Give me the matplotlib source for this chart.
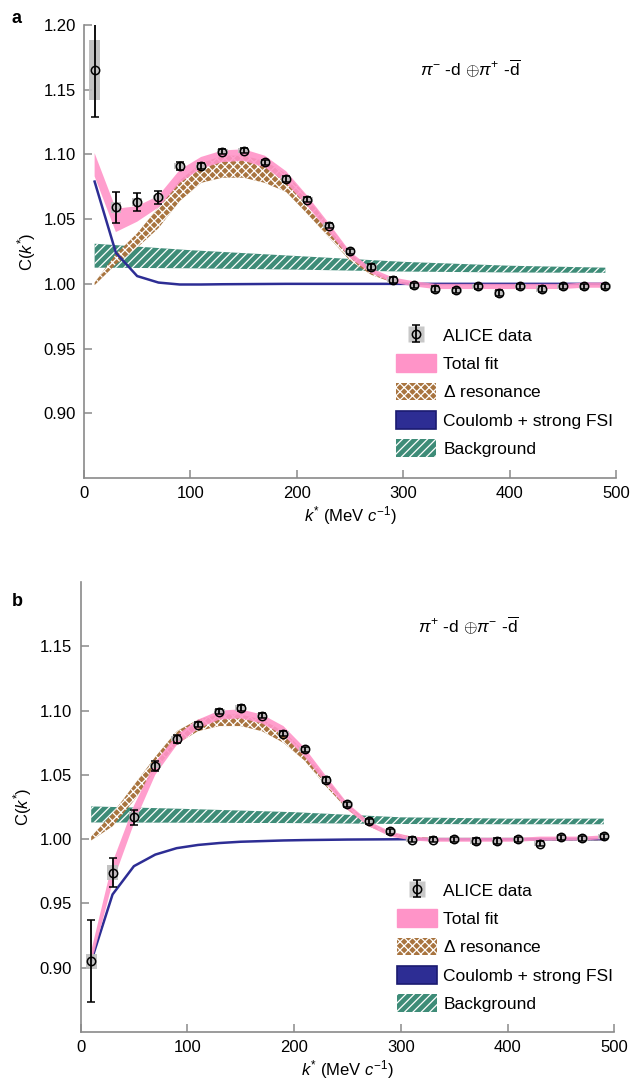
import numpy as np
import matplotlib
matplotlib.use("Agg")
import matplotlib.pyplot as plt
from matplotlib.lines import Line2D
from matplotlib.patches import Patch

plt.rcParams['font.family'] = ['Liberation Sans', 'DejaVu Sans']
plt.rcParams['mathtext.fontset'] = 'custom'
plt.rcParams['mathtext.rm'] = 'Liberation Sans'
plt.rcParams['mathtext.it'] = 'Liberation Sans:italic'
plt.rcParams['mathtext.bf'] = 'Liberation Sans:bold'
plt.rcParams['hatch.linewidth'] = 0.9

# k* bin centres (MeV/c)
k = np.arange(10, 500, 20)

# ---- panel a : pi- d + pi+ dbar ----
a_val = [1.165, 1.059, 1.063, 1.067, 1.091, 1.091, 1.102, 1.103, 1.094, 1.081,
         1.065, 1.045, 1.025, 1.013, 1.003, 0.999, 0.996, 0.995, 0.998, 0.993,
         0.998, 0.996, 0.998, 0.998, 0.998]
a_stat = [0.036, 0.012, 0.007, 0.005, 0.003] + [0.002] * 20
a_sys = [0.023, 0.004, 0.003] + [0.002] * 22
a_tot_lo = [1.083, 1.040, 1.048, 1.059, 1.078, 1.089, 1.094, 1.095, 1.090, 1.078,
            1.060, 1.040, 1.020, 1.008, 1.001, 0.998, 0.996, 0.996, 0.996, 0.996,
            0.996, 0.996, 0.996, 0.997, 0.997]
a_tot_hi = [1.101, 1.058, 1.060, 1.068, 1.088, 1.098, 1.103, 1.104, 1.099, 1.087,
            1.068, 1.047, 1.025, 1.012, 1.005, 1.002, 1.000, 1.000, 1.000, 1.000,
            1.000, 1.000, 1.000, 1.001, 1.001]
a_res_lo = [0.999, 1.015, 1.028, 1.043, 1.064, 1.078, 1.082, 1.082, 1.078, 1.071,
            1.054, 1.036, 1.018, 1.007, 1.001, 0.999, 0.999, 0.999, 0.999, 0.999,
            0.999, 0.999, 0.999, 0.999, 0.999]
a_res_hi = [1.001, 1.023, 1.039, 1.059, 1.080, 1.093, 1.099, 1.099, 1.095, 1.085,
            1.067, 1.045, 1.024, 1.010, 1.003, 1.000, 1.000, 1.000, 1.000, 1.000,
            1.000, 1.000, 1.000, 1.000, 1.000]
a_coul = [1.079, 1.024, 1.006, 1.001, 0.9995, 0.9995, 0.9997, 0.9998, 0.9999, 1.0,
          1.0, 1.0, 1.0, 1.0, 1.0, 1.0, 1.0, 1.0, 1.0, 1.0,
          1.0, 1.0, 1.0, 1.0, 1.0]

bg_k = [10, 100, 200, 300, 400, 490]
a_bg_hi = [1.031, 1.026, 1.0215, 1.017, 1.014, 1.0125]
a_bg_lo = [1.0125, 1.012, 1.011, 1.0095, 1.0088, 1.0085]

# ---- panel b : pi+ d + pi- dbar ----
b_val = [0.905, 0.974, 1.017, 1.057, 1.078, 1.089, 1.099, 1.102, 1.096, 1.082,
         1.070, 1.046, 1.027, 1.014, 1.006, 0.9995, 0.9995, 1.000, 0.9986, 0.9986,
         1.000, 0.9963, 1.0016, 1.0006, 1.0023]
b_stat = [0.032, 0.011, 0.006, 0.004, 0.003] + [0.002] * 20
b_sys = [0.006, 0.006, 0.004] + [0.002] * 22
b_tot_lo = [0.903, 0.966, 1.012, 1.050, 1.073, 1.086, 1.093, 1.094, 1.090, 1.081,
            1.064, 1.043, 1.023, 1.010, 1.002, 0.999, 0.998, 0.998, 0.998, 0.998,
            0.998, 0.999, 0.999, 0.999, 1.000]
b_tot_hi = [0.913, 0.982, 1.026, 1.060, 1.081, 1.093, 1.100, 1.101, 1.097, 1.088,
            1.071, 1.049, 1.028, 1.014, 1.006, 1.002, 1.001, 1.001, 1.001, 1.001,
            1.001, 1.002, 1.002, 1.002, 1.003]
b_res_lo = [0.999, 1.010, 1.030, 1.054, 1.074, 1.084, 1.088, 1.088, 1.084, 1.075,
            1.061, 1.041, 1.023, 1.010, 1.003, 1.000, 0.999, 0.999, 0.999, 0.999,
            0.999, 0.999, 0.999, 0.999, 0.999]
b_res_hi = [1.002, 1.020, 1.042, 1.064, 1.084, 1.093, 1.097, 1.097, 1.093, 1.084,
            1.068, 1.047, 1.027, 1.013, 1.005, 1.002, 1.001, 1.001, 1.001, 1.001,
            1.001, 1.001, 1.001, 1.001, 1.001]
b_coul = [0.905, 0.957, 0.979, 0.988, 0.993, 0.9955, 0.997, 0.998, 0.9985, 0.999,
          0.9993, 0.9995, 0.9997, 0.9998, 0.9999, 1.0, 1.0, 1.0, 1.0, 1.0,
          1.0, 1.0, 1.0, 1.0, 1.0]
b_bg_hi = [1.0255, 1.0235, 1.021, 1.017, 1.016, 1.016]
b_bg_lo = [1.013, 1.0128, 1.0125, 1.0118, 1.0116, 1.0116]

PINK = '#ff94c8'
BROWN = '#a8743f'
NAVY = '#2d2d94'
GREEN = '#3e8c78'
SPINE = '#8a8a8a'


def draw_panel(ax, val, stat, sys, tot_lo, tot_hi, res_lo, res_hi, coul,
               bg_lo, bg_hi, title, yticks, leg_xy):
    ax.fill_between(bg_k, bg_lo, bg_hi, facecolor=GREEN, edgecolor='white',
                    hatch='////', linewidth=0, zorder=1)
    ax.fill_between(k, res_lo, res_hi, facecolor=BROWN, edgecolor='white',
                    hatch='xxxx', linewidth=0, zorder=2)
    ax.plot(k, coul, color=NAVY, lw=1.8, zorder=3)
    ax.fill_between(k, tot_lo, tot_hi, facecolor=PINK, edgecolor='none',
                    alpha=0.9, zorder=4)
    for ki, v, s in zip(k, val, sys):
        ax.add_patch(plt.Rectangle((ki - 5, v - s), 10, 2 * s, facecolor='#bdbdbd',
                                   edgecolor='none', alpha=0.9, zorder=5))
    eb = ax.errorbar(k, val, yerr=stat, fmt='o', ms=6, mfc='none', mec='black',
                     mew=1.1, ecolor='black', elinewidth=1.3, capsize=3,
                     capthick=1.1, zorder=6)

    ax.set_xlim(0, 500)
    ax.set_ylim(0.85, 1.20)
    ax.set_xticks([0, 100, 200, 300, 400, 500])
    ax.set_yticks(yticks)
    ax.set_yticklabels([f'{t:.2f}' for t in yticks])
    for side in ('top', 'right'):
        ax.spines[side].set_visible(False)
    for side in ('left', 'bottom'):
        ax.spines[side].set_color(SPINE)
        ax.spines[side].set_linewidth(1.2)
    ax.tick_params(direction='in', length=6, width=1.1, color=SPINE,
                   labelsize=12, pad=6)
    ax.set_xlabel(r'$k^{*}$ (MeV $c^{-1}$)', fontsize=12, labelpad=2)
    ax.set_ylabel(r'C($k^{*}$)', fontsize=12, labelpad=4)
    ax.text(0.727, 0.905, title, transform=ax.transAxes, ha='center',
            va='center', fontsize=12.5)

    box = Line2D([], [], ls='none', marker='s', ms=11, mfc='#c8c8c8', mec='none')
    handles = [(box, eb),
               Patch(facecolor=PINK, edgecolor=PINK),
               Patch(facecolor=BROWN, edgecolor='white', hatch='xxxx', lw=0),
               Patch(facecolor=NAVY, edgecolor='#1a1a70', lw=1.2),
               Patch(facecolor=GREEN, edgecolor='white', hatch='////', lw=0)]
    labels = ['ALICE data', 'Total fit', r'$\Delta$ resonance',
              'Coulomb + strong FSI', 'Background']
    ax.legend(handles, labels, loc='upper left', bbox_to_anchor=leg_xy,
              frameon=False, fontsize=12.5, handlelength=2.3, handleheight=1.2,
              handletextpad=0.4, labelspacing=0.6, borderpad=0,
              borderaxespad=0)


fig = plt.figure(figsize=(6.41, 10.84), dpi=100)
ax_a = fig.add_axes([0.131, 0.559, 0.830, 0.418])
ax_b = fig.add_axes([0.1256, 0.048, 0.833, 0.415])

draw_panel(ax_a, a_val, a_stat, a_sys, a_tot_lo, a_tot_hi, a_res_lo, a_res_hi,
           a_coul, a_bg_lo, a_bg_hi,
           r'$\pi^{-}$ -d $\oplus\pi^{+}$ -$\overline{\mathrm{d}}$',
           [0.90, 0.95, 1.00, 1.05, 1.10, 1.15, 1.20], (0.587, 0.335))
draw_panel(ax_b, b_val, b_stat, b_sys, b_tot_lo, b_tot_hi, b_res_lo, b_res_hi,
           b_coul, b_bg_lo, b_bg_hi,
           r'$\pi^{+}$ -d $\oplus\pi^{-}$ -$\overline{\mathrm{d}}$',
           [0.90, 0.95, 1.00, 1.05, 1.10, 1.15], (0.592, 0.335))

fig.text(0.018, 0.983, 'a', fontsize=13, fontweight='bold', va='center')
fig.text(0.018, 0.445, 'b', fontsize=13, fontweight='bold', va='center')

fig.savefig('out.png', dpi=100)
